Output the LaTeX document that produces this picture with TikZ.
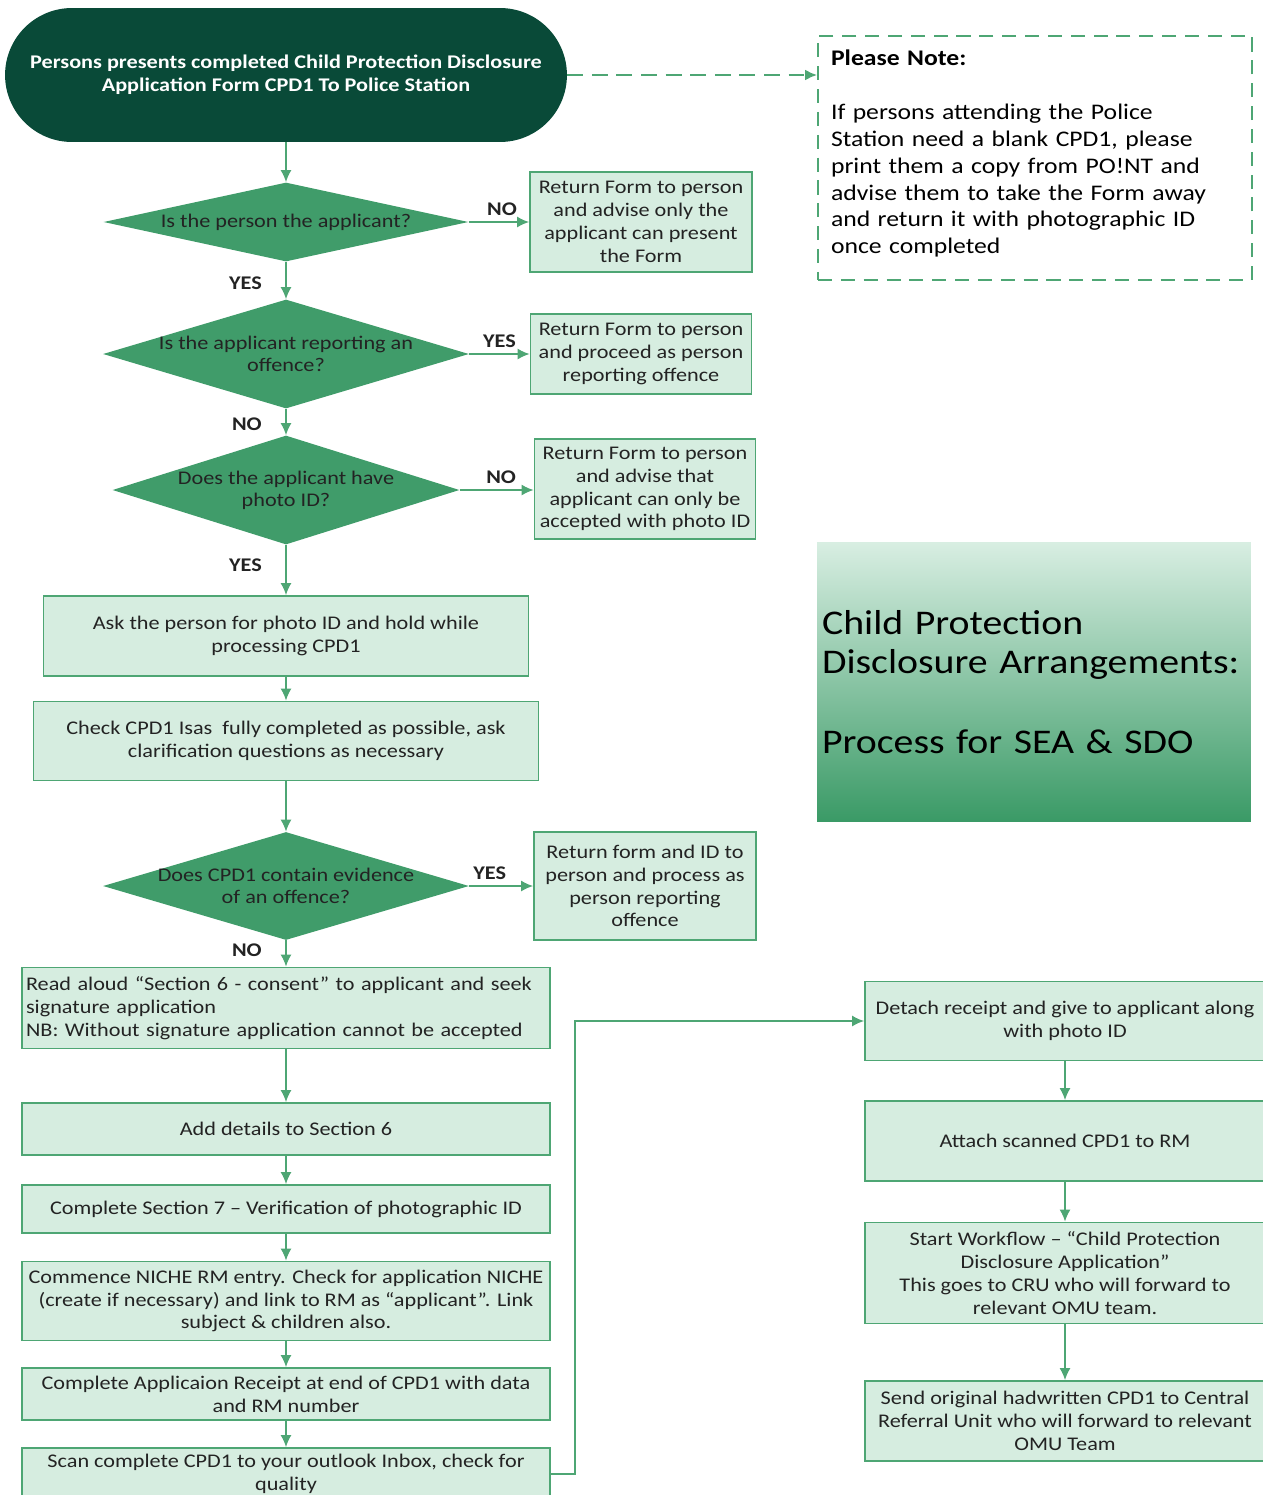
\documentclass[tikz,border=0pt]{standalone}
\usepackage{fontspec}
\setmainfont{Carlito}[FakeStretch=1.15]
\usetikzlibrary{shapes.geometric,arrows.meta}

\definecolor{deepgreen}{RGB}{9,74,56}
\definecolor{boxfill}{RGB}{214,237,224}
\definecolor{boxline}{RGB}{78,166,116}
\definecolor{qfill}{RGB}{64,156,106}
\definecolor{inkgray}{RGB}{35,35,35}

\tikzset{
  procbox/.style={draw=boxline, fill=boxfill, line width=1pt, align=center,
    text=inkgray, font=\fontsize{11}{13}\selectfont, inner sep=2pt},
  decision/.style={diamond, fill=qfill, inner sep=0pt},
  qtext/.style={align=center, text=inkgray, font=\fontsize{11}{12.5}\selectfont},
  answer/.style={text=inkgray, font=\bfseries\fontsize{11}{13}\selectfont},
  flow/.style={draw=boxline, line width=1pt, -{Latex[length=2.4mm,width=2.2mm]}},
}

\begin{document}
\begin{tikzpicture}[x=0.02cm, y=-0.02cm]
                \useasboundingbox ( 0, 0 ) rectangle ( 1263, 1495 );
% начало
                \node (start) [fill=deepgreen, rounded corners=1.34cm, minimum width=11.24cm,
                    minimum height=2.68cm, align=center, text=white,
                    font=\bfseries\fontsize{11}{13}\selectfont] at ( 286, 75 )
                    {Persons presents completed Child Protection Disclosure\\Application Form CPD1 To Police Station};
                \node (note) [draw=boxline, dash pattern=on 8pt off 5pt, line width=1pt,
                    minimum width=8.68cm, minimum height=4.88cm, text width=8.16cm, inner xsep=0.26cm,
                    text depth=114pt, align=left, text=black, font=\fontsize{12.7}{15.3}\selectfont] at ( 1035, 158 )
                    {\textbf{Please Note:}\\[15.3pt]If persons attending the Police\\Station need a blank CPD1, please\\print them a copy from PO!NT and\\advise them to take the Form away\\and return it with photographic ID\\once completed};
                \node (title) [top color={rgb,255:red,216;green,238;blue,226},
                    middle color={rgb,255:red,216;green,238;blue,226},
                    bottom color={rgb,255:red,58;green,154;blue,102},
                    minimum width=8.68cm, minimum height=5.58cm, text width=8.48cm, inner xsep=0.1cm,
                    align=left, text=black, font=\fontsize{19.7}{22.7}\selectfont] at ( 1034, 682 )
                    {Child Protection\\Disclosure Arrangements:\\[22.7pt]Process for SEA \& SDO};

% вопросы
                \node (q1) [decision, minimum width=7.3cm, minimum height=1.58cm,
                    label={[qtext]center:Is the person the applicant?}] at ( 286, 222 ) {};
                \node (q2) [decision, minimum width=7.32cm, minimum height=2.18cm,
                    label={[qtext]center:Is the applicant reporting an\\offence?}] at ( 286, 354 ) {};
                \node (q3) [decision, minimum width=6.94cm, minimum height=2.18cm,
                    label={[qtext]center:Does the applicant have\\photo ID?}] at ( 286, 490 ) {};
                \node (q4) [decision, minimum width=7.32cm, minimum height=2.16cm,
                    label={[qtext]center:Does CPD1 contain evidence\\of an offence?}] at ( 286, 886 ) {};

% ответы справа
                \node (r1) [procbox, minimum width=4.44cm, minimum height=2cm] at ( 641, 222 )
                    {Return Form to person\\and advise only the\\applicant can present\\the Form};
                \node (r2) [procbox, minimum width=4.42cm, minimum height=1.6cm] at ( 641, 354 )
                    {Return Form to person\\and proceed as person\\reporting offence};
                \node (r3) [procbox, minimum width=4.42cm, minimum height=2cm] at ( 645, 489 )
                    {Return Form to person\\and advise that\\applicant can only be\\accepted with photo ID};
                \node (r4) [procbox, minimum width=4.44cm, minimum height=2.16cm] at ( 645, 886 )
                    {Return form and ID to\\person and process as\\person reporting\\offence};

% основной столбец
                \node (ask) [procbox, minimum width=9.7cm, minimum height=1.6cm] at ( 286, 636 )
                    {Ask the person for photo ID and hold while\\processing CPD1};
                \node (check) [procbox, minimum width=10.1cm, minimum height=1.58cm] at ( 286, 741 )
                    {Check CPD1 Isas\ \ fully completed as possible, ask\\clarification questions as necessary};
                \node (consent) [procbox, minimum height=1.62cm, text width=10.4cm, inner xsep=0.08cm,
                    align=left] at ( 286, 1008 )
                    {Read aloud “Section 6 - consent” to applicant and seek\\signature application\\NB: Without signature application cannot be accepted};
                \node (sec6) [procbox, minimum width=10.56cm, minimum height=1.04cm] at ( 286, 1129 )
                    {Add details to Section 6};
                \node (sec7) [procbox, minimum width=10.56cm, minimum height=0.96cm] at ( 286, 1209 )
                    {Complete Section 7 – Verification of photographic ID};
                \node (niche) [procbox, minimum width=10.56cm, minimum height=1.58cm] at ( 286, 1301 )
                    {Commence NICHE RM entry. Check for application NICHE\\(create if necessary) and link to RM as “applicant”. Link\\subject \& children also.};
                \node (receipt) [procbox, minimum width=10.56cm, minimum height=1.04cm] at ( 286, 1394 )
                    {Complete Applicaion Receipt at end of CPD1 with data\\and RM number};
                \node (scan) [procbox, minimum width=10.56cm, minimum height=1.04cm] at ( 286, 1474 )
                    {Scan complete CPD1 to your outlook Inbox, check for\\quality};

% правый столбец
                \node (detach) [procbox, minimum width=8cm, minimum height=1.58cm] at ( 1065, 1021 )
                    {Detach receipt and give to applicant along\\with photo ID};
                \node (attach) [procbox, minimum width=8cm, minimum height=1.6cm] at ( 1065, 1141 )
                    {Attach scanned CPD1 to RM};
                \node (workflow) [procbox, minimum width=8cm, minimum height=2.02cm] at ( 1065, 1273 )
                    {Start Workflow – “Child Protection\\Disclosure Application”\\This goes to CRU who will forward to\\relevant OMU team.};
                \node (send) [procbox, minimum width=8cm, minimum height=1.6cm] at ( 1065, 1421 )
                    {Send original hadwritten CPD1 to Central\\Referral Unit who will forward to relevant\\OMU Team};

% стрелки
                \draw [flow, line width=1.5pt, dash pattern=on 9pt off 5pt] (start.east) -- (start.east -| note.west);
                \draw [flow] (start) -- (q1);
                \draw [flow] (q1) -- node [answer, above, pos=0.55] {NO} (r1);
                \draw [flow] (q1) -- node [answer, left=0.35cm, pos=0.57] {YES} (q2);
                \draw [flow] (q2) -- node [answer, above, pos=0.5] {YES} (r2);
                \draw [flow] (q2) -- node [answer, left=0.35cm, pos=0.57] {NO} (q3);
                \draw [flow] (q3) -- node [answer, above, pos=0.56] {NO} (q3 -| r3.west);
                \draw [flow] (q3) -- node [answer, left=0.35cm, pos=0.41] {YES} (ask);
                \draw [flow] (ask) -- (check);
                \draw [flow] (check) -- (q4);
                \draw [flow] (q4) -- node [answer, above, pos=0.32] {YES} (r4);
                \draw [flow] (q4) -- node [answer, left=0.35cm, pos=0.36] {NO} (consent);
                \draw [flow] (consent) -- (sec6);
                \draw [flow] (sec6) -- (sec7);
                \draw [flow] (sec7) -- (niche);
                \draw [flow] (niche) -- (receipt);
                \draw [flow] (receipt) -- (scan);
                \draw [flow] (scan.east) -- ++( 24, 0 ) |- (detach.west);
                \draw [flow] (detach) -- (attach);
                \draw [flow] (attach) -- (workflow);
                \draw [flow] (workflow) -- (send);
            \end{tikzpicture}
\end{document}
